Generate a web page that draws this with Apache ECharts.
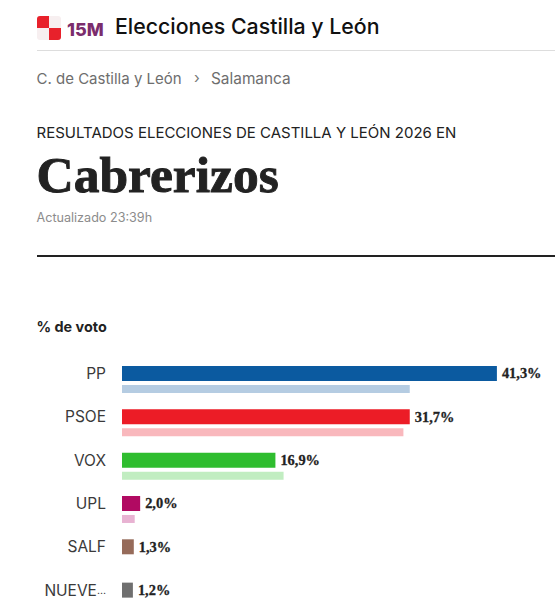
<!DOCTYPE html>
<html>
<head>
<meta charset="utf-8">
<style>html,body{margin:0;padding:0;background:#fff;overflow:hidden;height:603px}#c{width:555px;height:640px}</style>
<script src="https://cdn.jsdelivr.net/npm/echarts@6/dist/echarts.min.js"></script>
</head>
<body>
<div id="c"></div>
<script>
const parties = ['PP','PSOE','VOX','UPL','SALF','NUEVE…'];
const votes2026 = [41.3,31.7,16.9,2.0,1.3,1.2];
const votesPrev = [31.7,31.0,17.8,1.4,null,null];
const colors = ['#0b5aa0','#ec1c26','#2fbd2f','#b10a62','#966b5a','#6f6f6f'];
const prevColors = ['#b5cce2','#f9b8bd','#c1edc1','#e8b2d2','#ffffff','#ffffff'];

const sans = 'Inter, "Noto Sans", sans-serif';
const serif = '"Liberation Serif", serif';
const t = (x,y,text,font,size,weight,fill,extra) => ({type:'text',x,y,silent:true,
  style:Object.assign({text,fontFamily:font,fontSize:size,fontWeight:weight,fill,verticalAlign:'middle'},extra||{})});
const r = (x,y,w,h,fill,radius) => ({type:'rect',silent:true,shape:{x,y,width:w,height:h,r:radius||0},style:{fill}});

const chart = echarts.init(document.getElementById('c'),null,{renderer:'svg'});
chart.setOption({
  animation:false,
  backgroundColor:'#fff',
  grid:{left:122,top:357.8,width:433,height:260,containLabel:false},
  xAxis:{type:'value',min:0,max:47.7,show:false},
  yAxis:{type:'category',inverse:true,data:parties,
    axisLine:{show:false},axisTick:{show:false},splitLine:{show:false},
    axisLabel:{fontFamily:sans,fontSize:15.5,color:'#3a3a3a',margin:16,verticalAlign:'bottom',lineHeight:12,
      formatter:v=>v.endsWith('…')?'{a|'+v.slice(0,-1)+'}{d|…}':'{a|'+v+'}',
      rich:{a:{fontFamily:sans,fontSize:15.5,color:'#3a3a3a',lineHeight:12},
            d:{fontFamily:sans,fontSize:10.5,color:'#3a3a3a',lineHeight:12,verticalAlign:'bottom'}}}},
  series:[
    {type:'bar',barWidth:15,barGap:'26.67%',
     data:votes2026.map((v,i)=>({value:v,itemStyle:{color:colors[i]}})),
     label:{show:true,position:'right',distance:5,fontFamily:serif,fontWeight:'bold',fontSize:14.4,color:'#222',
       textBorderColor:'#222',textBorderWidth:0.3,
       formatter:p=>p.value.toFixed(1).replace('.',',')+'%'}},
    {type:'bar',barWidth:8,
     data:votesPrev.map((v,i)=>({value:v,itemStyle:{color:prevColors[i]}}))}
  ],
  graphic:[
    r(37,16,24,24,'#f7eff0',3),
    r(37,16,12,12,'#e8212b',[3,0,0,0]),
    r(49,28,12,12,'#e8212b',[0,0,3,0]),
    t(67,29,'15M',sans,18,'800','#7b2d6c'),
    t(115,25.5,'Elecciones Castilla y León',sans,21.3,'500','#111'),
    r(37,50,518,1,'#dddddd'),
    t(36.5,78,'C. de Castilla y León',sans,15,'400','#6e6e6e'),
    t(194,77,'›',sans,15,'400','#777'),
    t(211,78,'Salamanca',sans,15.4,'400','#6e6e6e'),
    t(36.5,132,'RESULTADOS ELECCIONES DE CASTILLA Y LEÓN 2026 EN',sans,15,'400','#222'),
    t(36.5,174,'Cabrerizos',serif,51.5,'bold','#222',{stroke:'#222',lineWidth:0.9}),
    t(36.5,217,'Actualizado 23:39h',sans,12.6,'400','#8c8c8c'),
    r(37,255,518,2,'#222'),
    t(36.5,326.5,'% de voto',sans,14.4,'700','#222')
  ]
});
</script>
</body>
</html>
